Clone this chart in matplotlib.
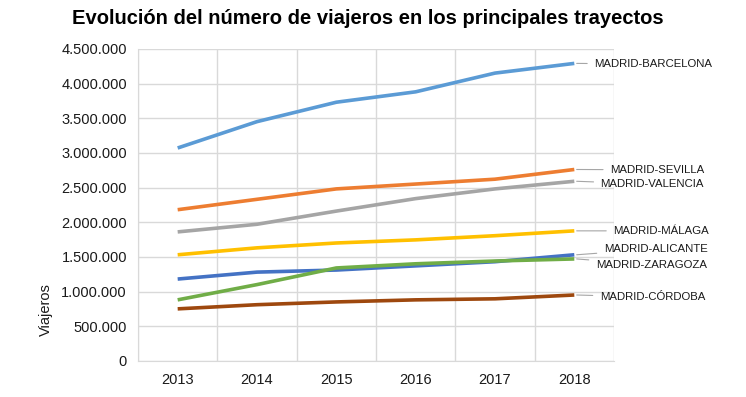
import numpy as np
import matplotlib.pyplot as plt
from matplotlib.ticker import FuncFormatter, MultipleLocator

plt.rcParams['font.family'] = ['Liberation Sans', 'DejaVu Sans']

# Datos
anios = ['2013', '2014', '2015', '2016', '2017', '2018']
barcelona = [3070000, 3450000, 3730000, 3880000, 4150000, 4290000]
sevilla = [2180000, 2330000, 2480000, 2550000, 2620000, 2760000]
valencia = [1860000, 1970000, 2160000, 2340000, 2480000, 2590000]
malaga = [1530000, 1630000, 1700000, 1745000, 1805000, 1875000]
alicante = [1180000, 1280000, 1310000, 1370000, 1430000, 1530000]
zaragoza = [880000, 1100000, 1340000, 1400000, 1440000, 1470000]
cordoba = [750000, 810000, 850000, 880000, 895000, 950000]

series = [
    ('MADRID-BARCELONA', barcelona, '#5B9BD5', 4280000),
    ('MADRID-SEVILLA', sevilla, '#ED7D31', 2755000),
    ('MADRID-VALENCIA', valencia, '#A5A5A5', 2550000),
    ('MADRID-MÁLAGA', malaga, '#FFC000', 1875000),
    ('MADRID-ALICANTE', alicante, '#4472C4', 1615000),
    ('MADRID-ZARAGOZA', zaragoza, '#70AD47', 1385000),
    ('MADRID-CÓRDOBA', cordoba, '#9E480E', 920000),
]
label_x = [5.25, 5.45, 5.33, 5.49, 5.37, 5.27, 5.32]

fig = plt.figure(figsize=(7.46, 3.97), dpi=100)
ax = fig.add_axes([0.185, 0.091, 0.638, 0.786])
x = np.arange(len(anios))

for (name, vals, col, ly), lx in zip(series, label_x):
    ax.plot(x, vals, color=col, lw=2.6, solid_capstyle='butt', zorder=3)
    ax.annotate(name, xy=(x[-1] + 0.03, vals[-1]), xytext=(lx, ly),
                fontsize=8.2, va='center', ha='left', color='#1a1a1a',
                annotation_clip=False,
                arrowprops=dict(arrowstyle='-', color='#A6A6A6', lw=0.8,
                                shrinkA=3, shrinkB=0))

ax.set_xlim(-0.5, 5.5)
ax.set_ylim(0, 4500000)
ax.set_xticks(x)
ax.set_xticklabels(anios)
ax.xaxis.set_minor_locator(MultipleLocator(1, offset=0.5))
ax.yaxis.set_major_locator(MultipleLocator(500000))
ax.yaxis.set_major_formatter(FuncFormatter(lambda v, p: f'{int(v):,}'.replace(',', '.')))
ax.grid(axis='y', which='major', color='#D9D9D9', lw=1)
ax.grid(axis='x', which='minor', color='#D9D9D9', lw=1)
ax.tick_params(which='both', length=0, labelsize=10.5, colors='#1a1a1a')
ax.tick_params(axis='x', pad=9)
ax.tick_params(axis='y', pad=8)
for s in ['top', 'right']:
    ax.spines[s].set_visible(False)
for s in ['left', 'bottom']:
    ax.spines[s].set_color('#D9D9D9')
ax.set_axisbelow(True)

fig.text(46 / 746, 1 - 310 / 397, 'Viajeros', rotation=90, fontsize=10.5,
         ha='center', va='center', color='#1a1a1a')
fig.text(368 / 746, 1 - 18 / 397, 'Evolución del número de viajeros en los principales trayectos',
         fontsize=14.5, fontweight='bold', ha='center', va='center')

fig.savefig('out.png', dpi=100)
